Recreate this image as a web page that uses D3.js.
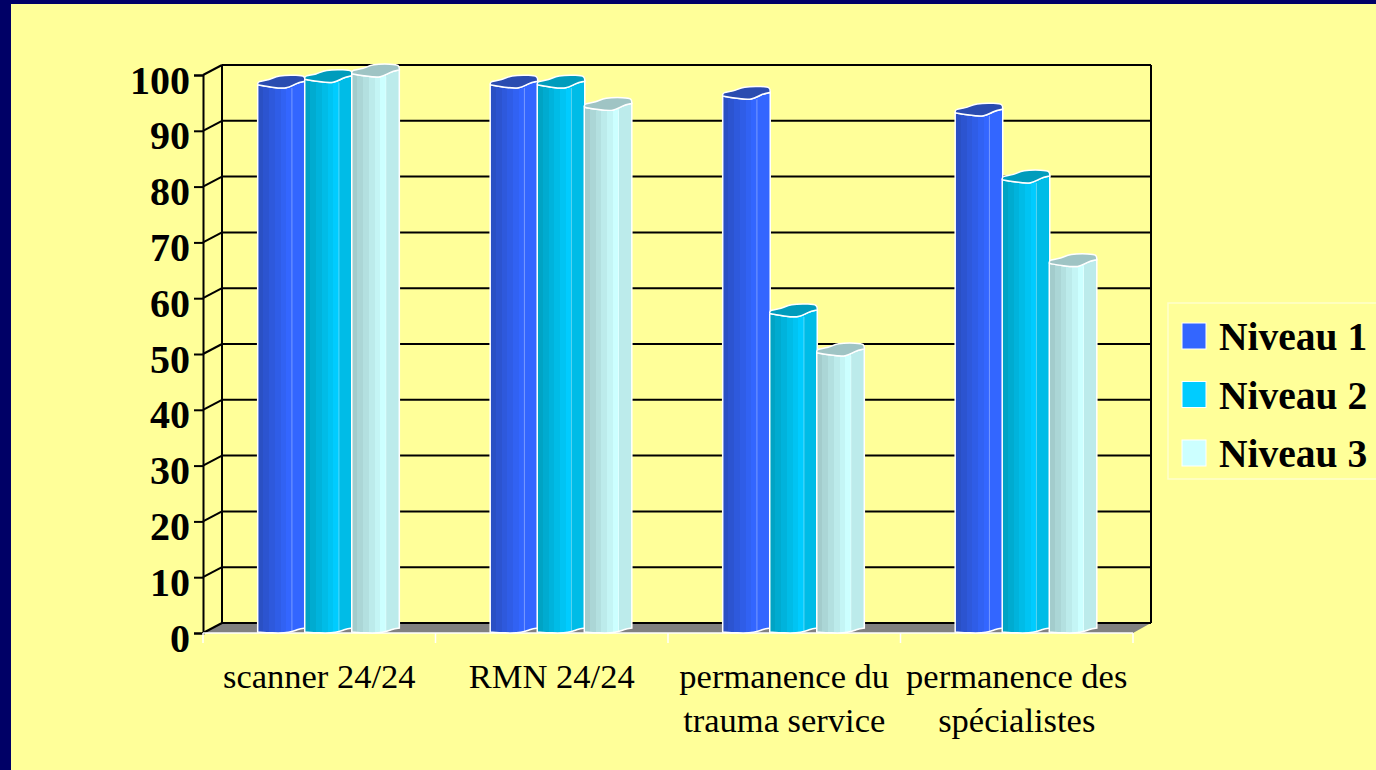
<!DOCTYPE html>
<html>
<head>
<meta charset="utf-8">
<script src="https://cdnjs.cloudflare.com/ajax/libs/d3/7.8.5/d3.min.js"></script>
<style>
  html, body { margin: 0; padding: 0; background: #ffff99; overflow: hidden; }
  svg { display: block; font-family: "Liberation Serif", serif; }
</style>
</head>
<body>
<div id="chart"></div>
<script>
// Values
const categories = [['scanner 24/24'], ['RMN 24/24'], ['permanence du', 'trauma service'], ['permanence des', 'spécialistes']];
const seriesNames = ['Niveau 1', 'Niveau 2', 'Niveau 3'];
const niveau1 = [98, 98, 96, 93];
const niveau2 = [99, 98, 57, 81];
const niveau3 = [100, 94, 50, 66];
const yTicks = [0, 10, 20, 30, 40, 50, 60, 70, 80, 90, 100];

// Colours per series: legend colour, shaded left edge, top cap
const colors = ['#3366ff', '#00ccff', '#ccffff'];
const shades = ['#2a50c4', '#00a3c4', '#a3cccc'];
const caps = ['#2a4cb0', '#009cbc', '#9fc4c4'];

const config = {
  width: 1376, height: 770,
  left: 203, right: 1133, top: 75, bottom: 633,
  depthX: 19, depthY: 10
};

const svg = d3.select('#chart').append('svg')
  .attr('width', config.width)
  .attr('height', config.height);

// Slide frame
svg.append('rect').attr('width', config.width).attr('height', config.height).attr('fill', '#000066');
svg.append('rect').attr('x', 11).attr('y', 4).attr('width', config.width - 11).attr('height', config.height - 4).attr('fill', '#ffff99');

const xScale = d3.scaleBand()
  .domain(d3.range(categories.length))
  .range([config.left, config.right])
  .paddingInner(0.393)
  .paddingOuter(0.1965);
const xOuter = d3.scaleBand()
  .domain(d3.range(categories.length))
  .range([config.left, config.right]);
const xInner = d3.scaleBand()
  .domain(seriesNames)
  .range([0, xScale.bandwidth()]);
const yScale = d3.scaleLinear()
  .domain([0, 100])
  .range([config.bottom, config.top]);

// Stepped gradients for the cylinders
const facetAt = 0.72;
const defs = svg.append('defs');
seriesNames.forEach((name, i) => {
  const grad = defs.append('linearGradient').attr('id', 'bar' + i);
  const mix = d3.interpolateRgb(shades[i], colors[i]);
  const steps = 6;
  for (let s = 0; s < steps; s++) {
    const c = mix(s / (steps - 1));
    grad.append('stop').attr('offset', (s / steps) * facetAt).attr('stop-color', c);
    grad.append('stop').attr('offset', ((s + 1) / steps) * facetAt).attr('stop-color', c);
  }
  const side = mix(0.6);
  grad.append('stop').attr('offset', facetAt).attr('stop-color', i === 0 ? colors[0] : side);
  grad.append('stop').attr('offset', 1).attr('stop-color', i === 0 ? colors[0] : side);
});

// Floor
const dx = config.depthX, dy = config.depthY;
svg.append('path')
  .attr('d', `M${config.left},${config.bottom}L${config.left + dx},${config.bottom - dy}L${config.right + dx - 1},${config.bottom - dy}L${config.right},${config.bottom}Z`)
  .attr('fill', '#808080');

// Walls and gridlines
const wall = svg.append('g').attr('fill', 'none').attr('stroke', '#000').attr('stroke-width', 2);
wall.append('g').selectAll('line')
  .data(yTicks)
  .enter().append('line')
  .attr('x1', config.left + dx).attr('x2', config.right + dx - 1)
  .attr('y1', d => yScale(d) - dy).attr('y2', d => yScale(d) - dy);
wall.append('line')
  .attr('x1', config.left + dx).attr('x2', config.left + dx)
  .attr('y1', yScale(100) - dy).attr('y2', yScale(0) - dy);
wall.append('line')
  .attr('x1', config.right + dx - 1).attr('x2', config.right + dx - 1)
  .attr('y1', yScale(100) - dy).attr('y2', yScale(0) - dy);
wall.append('g').selectAll('line')
  .data(yTicks)
  .enter().append('line')
  .attr('x1', config.left).attr('x2', config.left + dx)
  .attr('y1', d => yScale(d)).attr('y2', d => yScale(d) - dy);

// Front axis
const yAxis = svg.append('g')
  .attr('transform', `translate(${config.left},0)`)
  .call(d3.axisLeft(yScale).tickValues(yTicks).tickSize(9).tickPadding(4));
yAxis.selectAll('path, line').attr('stroke', '#000').attr('stroke-width', 2);
yAxis.selectAll('text')
  .attr('fill', '#000')
  .attr('font-family', '"Liberation Serif", serif')
  .attr('font-weight', 'bold')
  .attr('font-size', 40)
  .attr('dy', '0.45em');

// Category axis: white baseline and ticks
const xAxisLine = svg.append('g').attr('stroke', '#fff').attr('stroke-width', 1.5);
xAxisLine.append('line')
  .attr('x1', config.left).attr('x2', config.right)
  .attr('y1', config.bottom).attr('y2', config.bottom);
xAxisLine.selectAll('.tick')
  .data(d3.range(categories.length + 1))
  .enter().append('line')
  .attr('x1', d => d < categories.length ? xOuter(d) : config.right)
  .attr('x2', d => d < categories.length ? xOuter(d) : config.right)
  .attr('y1', config.bottom).attr('y2', config.bottom + 10);

const labels = svg.append('g').attr('text-anchor', 'middle').attr('font-size', 34.5).attr('fill', '#000');
categories.forEach((lines, i) => {
  lines.forEach((line, j) => {
    labels.append('text')
      .attr('x', xOuter(i) + xOuter.bandwidth() / 2)
      .attr('y', 688 + j * 44)
      .text(line);
  });
});

// Bars
const allValues = [niveau1, niveau2, niveau3];
const shiftX = dx / 2 - 0.5;
const capLift = 2;
seriesNames.forEach((name, s) => {
  const g = svg.append('g').attr('class', 'serie' + s);
  allValues[s].forEach((value, i) => {
    const x = xScale(i) + xInner(name) + shiftX;
    const w = xInner.bandwidth() + 0.5;
    const y = yScale(value) - capLift;
    const y0 = yScale(0);
    const line = d3.line().curve(d3.curveBasis);
    const topFront = [[x, y], [x, y + 1], [x + w * 0.3, y + 3], [x + w * 0.62, y + 5], [x + w * 0.8, y - 1], [x + w, y - 3], [x + w, y - 3]];
    const bottomFront = [[x + w, y0 - 5], [x + w, y0 - 5], [x + w * 0.85, y0 - 4], [x + w * 0.68, y0], [x + w * 0.3, y0], [x, y0 - 1], [x, y0 - 1]];
    const body = 'M' + line(topFront).slice(1) + 'L' + line(bottomFront).slice(1) + 'Z';
    g.append('path')
      .attr('d', body)
      .attr('fill', `url(#bar${s})`)
      .attr('stroke', '#fff')
      .attr('stroke-width', 1.5);
    const topBack = [[x + w, y - 3], [x + w, y - 8], [x + w * 0.85, y - 9], [x + w * 0.42, y - 9], [x + w * 0.25, y - 4], [x, y - 3], [x, y], [x, y]];
    g.append('path')
      .attr('d', 'M' + line(topFront).slice(1) + 'L' + line(topBack).slice(1) + 'Z')
      .attr('fill', caps[s])
      .attr('stroke', '#fff')
      .attr('stroke-width', 1.5);
    // thin edge line of the facet
    g.append('line')
      .attr('x1', x + w * facetAt).attr('x2', x + w * facetAt)
      .attr('y1', y + 4).attr('y2', y0 - 2)
      .attr('stroke', '#fff').attr('stroke-opacity', 0.35);
  });
});

// Legend
const legend = svg.append('g');
legend.append('rect')
  .attr('x', 1168).attr('y', 303).attr('width', 230).attr('height', 176)
  .attr('fill', 'none').attr('stroke', '#ffffcc').attr('stroke-width', 1.5);
const legendY = d3.scalePoint().domain(seriesNames).range([336, 453]);
seriesNames.forEach((name, i) => {
  legend.append('rect')
    .attr('x', 1182).attr('y', legendY(name) - 13)
    .attr('width', 24).attr('height', 26)
    .attr('fill', colors[i]).attr('stroke', '#fff').attr('stroke-width', 1);
  legend.append('text')
    .attr('x', 1219).attr('y', legendY(name) + 14)
    .attr('font-size', 39.5).attr('font-weight', 'bold').attr('fill', '#000')
    .text(name);
});
</script>
</body>
</html>
